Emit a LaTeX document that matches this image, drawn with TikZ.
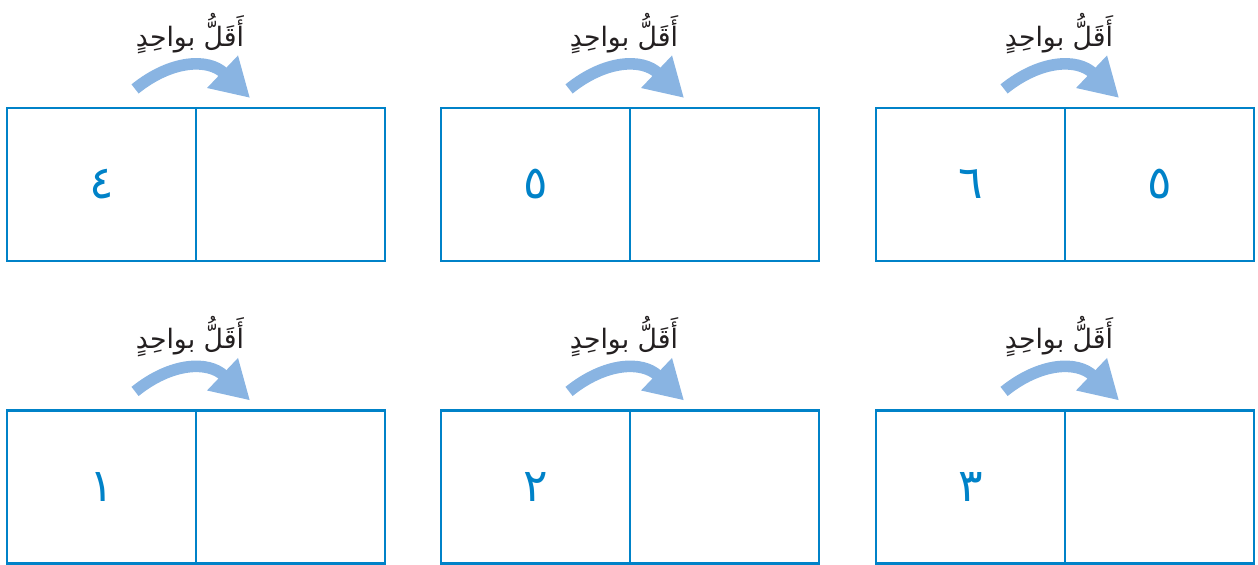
\documentclass[tikz,border=0pt]{standalone}
\usepackage{fontspec}
\usepackage{xcolor}
\newfontfamily\arabicfont[Script=Arabic]{DejaVu Sans}
\TeXXeTstate=1
\usetikzlibrary{arrows.meta,positioning,calc}
\definecolor{boxblue}{RGB}{0,130,200}
\definecolor{arrowblue}{RGB}{137,180,226}
\definecolor{ink}{RGB}{35,31,32}
\tikzset{
  cell/.style = {draw=boxblue, line width=0.65pt, minimum width=1.89cm,
                 minimum height=1.53cm, inner sep=0pt, outer sep=0pt,
                 text=boxblue, font=\arabicfont\fontsize{13}{16}\selectfont},
  less/.style = {text=ink, inner sep=0pt, font=\arabicfont\fontsize{7.6}{9}\selectfont},
  hop/.style  = {-{Triangle[length=3.8mm, width=4.2mm]}, draw=arrowblue,
                 line width=3.3pt},
}
\newcommand{\lessone}{\beginR أَقَلُّ بواحِدٍ\endR}

\begin{document}
\begin{tikzpicture}[x=0.01cm, y=-0.01cm]
\useasboundingbox (0,0) rectangle (1258,565);

% top row of boxes
\node[cell] (c1l) at (101.5,184.5) {٤};
\node[cell, right=0pt of c1l] (c1r) {};
\node[cell] (c2l) at (535.5,184.5) {٥};
\node[cell, right=0pt of c2l] (c2r) {};
\node[cell] (c3l) at (970.5,184.5) {٦};
\node[cell, right=0pt of c3l] (c3r) {٥};

% bottom row of boxes
\node[cell] (c4l) at (101.5,487) {١};
\node[cell, right=0pt of c4l] (c4r) {};
\node[cell] (c5l) at (535.5,487) {٢};
\node[cell, right=0pt of c5l] (c5r) {};
\node[cell] (c6l) at (970.5,487) {٣};
\node[cell, right=0pt of c6l] (c6r) {};

% labels over the middle lines
\node[less] (l1) at ($(c1l.north east)+(-6,-74)$) {\lessone};
\node[less] (l2) at ($(c2l.north east)+(-6,-74)$) {\lessone};
\node[less] (l3) at ($(c3l.north east)+(-6,-74)$) {\lessone};
\node[less] (l4) at ($(c4l.north east)+(-6,-74)$) {\lessone};
\node[less] (l5) at ($(c5l.north east)+(-6,-74)$) {\lessone};
\node[less] (l6) at ($(c6l.north east)+(-6,-74)$) {\lessone};

% curved arrows from left cell to right cell
\coordinate (h1s) at ($(c1l.north east)+(-61,-19)$);
\coordinate (h1e) at ($(c1r.north west)+(54,-10)$);
\coordinate (h2s) at ($(c2l.north east)+(-61,-19)$);
\coordinate (h2e) at ($(c2r.north west)+(54,-10)$);
\coordinate (h3s) at ($(c3l.north east)+(-61,-19)$);
\coordinate (h3e) at ($(c3r.north west)+(54,-10)$);
\coordinate (h4s) at ($(c4l.north east)+(-61,-19)$);
\coordinate (h4e) at ($(c4r.north west)+(54,-10)$);
\coordinate (h5s) at ($(c5l.north east)+(-61,-19)$);
\coordinate (h5e) at ($(c5r.north west)+(54,-10)$);
\coordinate (h6s) at ($(c6l.north east)+(-61,-19)$);
\coordinate (h6e) at ($(c6r.north west)+(54,-10)$);

\draw[hop] (h1s) .. controls +(36,-29) and +(-42,-40) .. (h1e);
\draw[hop] (h2s) .. controls +(36,-29) and +(-42,-40) .. (h2e);
\draw[hop] (h3s) .. controls +(36,-29) and +(-42,-40) .. (h3e);
\draw[hop] (h4s) .. controls +(36,-29) and +(-42,-40) .. (h4e);
\draw[hop] (h5s) .. controls +(36,-29) and +(-42,-40) .. (h5e);
\draw[hop] (h6s) .. controls +(36,-29) and +(-42,-40) .. (h6e);
\end{tikzpicture}
\end{document}
